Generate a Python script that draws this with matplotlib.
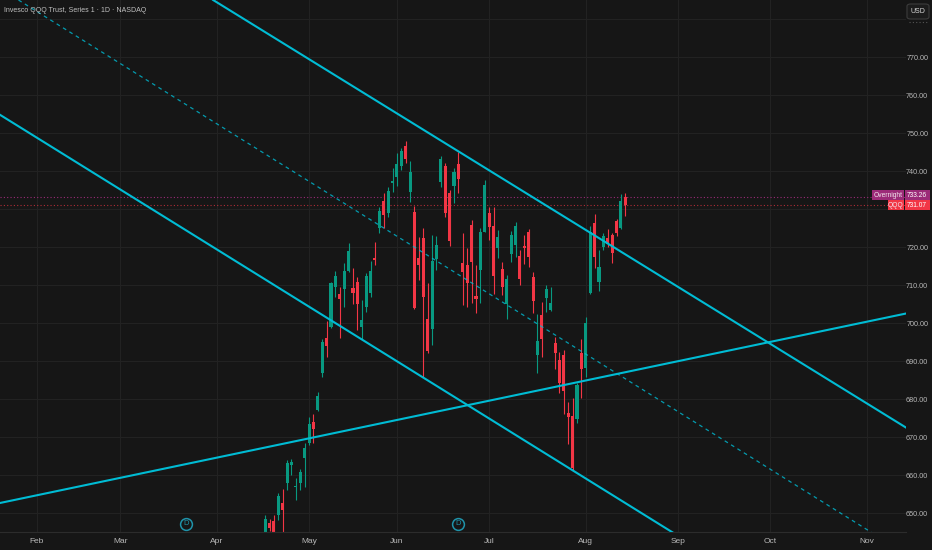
import matplotlib
matplotlib.use("Agg")
import matplotlib.pyplot as plt
import matplotlib.transforms as mtransforms
from matplotlib.patches import Rectangle, FancyBboxPatch
import numpy as np
import pandas as pd

plt.rcParams['font.family'] = ['Liberation Sans', 'DejaVu Sans']

# trading calendar 2026 (NYSE holidays)
holidays = ["2026-01-01", "2026-01-19", "2026-02-16", "2026-04-03", "2026-05-25",
            "2026-06-19", "2026-07-03", "2026-09-07", "2026-11-26", "2026-12-25"]
days = pd.bdate_range("2026-01-01", "2026-12-31", freq="C", holidays=holidays)
origin = days.get_loc(pd.Timestamp("2026-02-02"))


def pos(d):
    return days.get_loc(pd.Timestamp(d)) - origin


# daily candles, from 2026-04-17 to 2026-08-14
first_day = "2026-04-17"
opens = [644.0, 647.5, 648.0, 649.6, 652.8, 657.9, 662.7, 656.8, 658.1, 664.6,
         668.5, 674.0, 677.2, 687.0, 696.1, 699.1, 709.6, 707.6, 709.0, 713.8,
         709.4, 711.0, 699.1, 704.4, 708.1, 717.3, 725.0, 732.2, 729.0, 736.8,
         738.6, 741.4, 746.7, 734.5, 729.4, 717.3, 722.4, 701.1, 698.5, 716.8,
         737.3, 741.4, 734.4, 736.1, 741.9, 715.8, 715.3, 725.9, 707.2, 714.0,
         724.1, 729.1, 725.6, 719.7, 714.2, 705.1, 718.2, 720.6, 717.7, 720.3,
         724.0, 712.1, 691.7, 702.2, 706.6, 703.5, 694.7, 690.3, 691.7, 676.3,
         675.6, 674.7, 692.3, 688.3, 708.1, 726.3, 711.0, 720.2, 722.4, 723.2,
         727.0, 725.0, 733.3]
highs = [649.6, 648.5, 649.6, 655.3, 656.4, 664.0, 664.3, 659.3, 661.7, 668.5,
         675.3, 676.1, 682.0, 695.9, 700.7, 710.9, 713.8, 709.6, 716.0, 721.2,
         714.6, 712.3, 706.1, 713.2, 716.4, 721.5, 730.7, 734.2, 736.0, 740.8,
         744.9, 746.1, 748.0, 742.7, 730.9, 722.8, 725.0, 710.7, 723.2, 723.0,
         744.0, 742.2, 735.1, 740.8, 745.2, 723.7, 719.7, 727.2, 715.3, 725.0,
         737.7, 730.7, 730.7, 724.6, 716.2, 712.7, 724.4, 726.7, 719.3, 723.2,
         724.7, 713.6, 702.5, 705.7, 710.1, 709.6, 696.5, 692.5, 693.0, 679.4,
         680.3, 684.4, 695.8, 701.7, 725.6, 728.8, 719.3, 723.8, 724.8, 723.7,
         727.5, 734.0, 734.2]
lows = [643.0, 645.3, 643.0, 648.2, 644.3, 656.1, 660.1, 653.5, 656.1, 656.9,
        668.0, 668.5, 676.9, 685.8, 691.2, 698.8, 707.0, 696.1, 704.4, 713.6,
        705.1, 698.2, 695.6, 703.0, 707.0, 715.3, 723.7, 725.0, 727.9, 734.6,
        736.1, 740.3, 742.1, 732.0, 703.7, 711.4, 686.0, 692.1, 694.3, 714.0,
        736.0, 728.0, 720.3, 731.6, 734.4, 704.8, 704.4, 705.3, 702.8, 705.3,
        723.9, 721.9, 707.7, 717.2, 707.5, 701.1, 716.2, 717.5, 710.1, 715.6,
        714.9, 702.6, 687.0, 691.2, 703.1, 703.2, 687.9, 681.6, 676.1, 668.2,
        661.4, 673.7, 680.3, 686.0, 707.7, 714.5, 708.6, 719.3, 720.1, 715.8,
        723.0, 724.7, 728.2]
closes = [648.5, 646.1, 644.5, 654.6, 650.9, 663.3, 663.6, 657.1, 661.0, 667.2,
          673.5, 672.2, 681.0, 695.2, 694.1, 710.6, 712.5, 706.4, 713.8, 719.1,
          708.0, 705.1, 700.9, 712.5, 713.8, 716.7, 729.6, 728.5, 734.8, 737.5,
          741.9, 745.4, 743.2, 739.9, 704.1, 715.3, 707.0, 692.7, 716.4, 720.6,
          743.3, 729.1, 721.7, 739.9, 737.9, 713.6, 710.5, 716.2, 706.3, 724.1,
          736.4, 725.3, 712.5, 722.8, 709.5, 711.6, 723.2, 725.6, 711.6, 719.7,
          717.5, 706.0, 695.4, 695.9, 709.0, 705.3, 692.1, 684.4, 682.3, 675.4,
          661.8, 683.8, 687.9, 700.2, 724.1, 717.4, 714.7, 723.1, 720.9, 718.4,
          723.7, 732.2, 731.07]

overnight_price = 733.26
last_price = 731.07

# drawn trend lines: two anchor points each (date, price)
line_upper = [("2026-06-15", 748.1), ("2026-08-19", 716.0)]
line_lower = [("2026-04-14", 713.7), ("2026-08-31", 644.8)]
line_rising = [("2026-06-02", 674.8), ("2026-11-13", 702.6)]
line_mid = [("2026-06-02", 722.2), ("2026-11-03", 645.0)]

dividend_days = ["2026-03-23", "2026-06-22"]

months = ["Feb", "Mar", "Apr", "May", "Jun", "Jul", "Aug", "Sep", "Oct", "Nov"]
month_starts = ["2026-02-02", "2026-03-02", "2026-04-01", "2026-05-01", "2026-06-01",
                "2026-07-01", "2026-08-03", "2026-09-01", "2026-10-01", "2026-11-02"]
price_ticks = [650, 660, 670, 680, 690, 700, 710, 720, 730, 740, 750, 760, 770, 780]
# ticks hidden behind the USD box / last price label
hidden_ticks = [730, 780]

bg = '#161616'
grid = '#232323'
txt = '#b8b8b8'
up = '#089981'
down = '#f23645'
cyan = '#00bcd4'

W, H = 932, 550
fig = plt.figure(figsize=(W / 100, H / 100), dpi=100, facecolor=bg)
ax = fig.add_axes([0, (H - 532.3) / H, 906 / W, 532.3 / H], facecolor=bg)

o = np.array(opens)
hi = np.array(highs)
lo = np.array(lows)
c = np.array(closes)
x = pos(first_day) + np.arange(len(o))
cols = np.where(c >= o, up, down)

ax.vlines(x, lo, hi, colors=cols, lw=0.8, zorder=2)
ax.bar(x, np.maximum(np.abs(c - o), 0.3), bottom=np.minimum(o, c), width=0.7,
       color=cols, linewidth=0, zorder=2.5)

for pts, ls, lw in [(line_upper, '-', 1.5), (line_lower, '-', 1.5),
                    (line_rising, '-', 1.5), (line_mid, (0, (3, 3)), 0.9)]:
    (d1, p1), (d2, p2) = pts
    ax.axline((pos(d1), p1), (pos(d2), p2), color=cyan, lw=lw, ls=ls, zorder=3,
              alpha=1 if lw > 1 else 0.8)

ax.axhline(overnight_price, color='#9c2b78', lw=0.8, ls=(0, (1, 2)), zorder=1.5)
ax.axhline(last_price, color=down, lw=0.8, ls=(0, (1, 2)), alpha=0.7, zorder=1.5)

ax.set_xlim(-8.36, 197.9)
ax.set_ylim(645.0, 785.08)

ax.set_xticks([pos(d) for d in month_starts])
ax.set_xticklabels(months)
ax.set_yticks(price_ticks)
ax.set_yticklabels(["" if p in hidden_ticks else f"{p:.2f}" for p in price_ticks])
ax.yaxis.tick_right()
ax.tick_params(axis='x', length=0, pad=4, labelsize=6, colors=txt)
ax.tick_params(axis='y', length=0, pad=16, labelsize=5.2, colors=txt)
for lab in ax.get_yticklabels():
    lab.set_horizontalalignment('right')
ax.grid(True, color=grid, lw=0.7)
ax.set_axisbelow(True)
for s in ['top', 'left', 'right']:
    ax.spines[s].set_visible(False)
ax.spines['bottom'].set_color('#2c2c2c')

# dividend markers
tr = mtransforms.blended_transform_factory(ax.transData, ax.transAxes)
for d in dividend_days:
    ax.plot(pos(d), 0.0158, marker='o', ms=8.5, mfc=bg, mec='#1f93aa', mew=1.1,
            transform=tr, clip_on=False, zorder=4)
    ax.text(pos(d), 0.0158, "D", transform=tr, ha='center', va='center',
            fontsize=5.5, color='#1f93aa', zorder=5)

# title
fig.text(4 / W, 1 - 10 / H, "Invesco QQQ Trust, Series 1 · 1D · NASDAQ",
         fontsize=5, color='#c0c0c0', va='center', ha='left')

# USD box
fig.patches.append(FancyBboxPatch((907 / W, 1 - 19 / H), 22 / W, 15 / H,
                                  boxstyle="round,pad=0,rounding_size=0.004",
                                  transform=fig.transFigure, fc='#1c1c1c', ec='#3c3c3c', lw=0.8))
fig.text(918 / W, 1 - 11.5 / H, "USD", fontsize=5, color='#d8d8d8', ha='center', va='center')
fig.lines.append(plt.Line2D([909 / W, 927 / W], [1 - 22 / H, 1 - 22 / H], transform=fig.transFigure,
                            color='#555555', lw=0.8, ls=(0, (1, 2))))


def price_to_px(p):
    return H - ax.transData.transform((0, p))[1]


def price_label(name, value, ypx, color, name_x0):
    fig.patches.append(Rectangle((name_x0 / W, 1 - (ypx + 5) / H), (903.5 - name_x0) / W, 10 / H,
                                 transform=fig.transFigure, fc=color, ec='none', zorder=5))
    fig.patches.append(Rectangle((904.5 / W, 1 - (ypx + 5) / H), 25 / W, 10 / H,
                                 transform=fig.transFigure, fc=color, ec='none', zorder=5))
    fig.text((name_x0 + 903.5) / 2 / W, 1 - ypx / H, name, fontsize=4.8, color='#f2e6ee',
             ha='center', va='center', zorder=6)
    fig.text(917 / W, 1 - ypx / H, f"{value:.2f}", fontsize=4.8, color='white',
             ha='center', va='center', zorder=6)


qqq_y = price_to_px(last_price)
price_label("Overnight", overnight_price, min(price_to_px(overnight_price), qqq_y - 10), '#9c2b78', 872)
price_label("QQQ", last_price, qqq_y, down, 887.5)

fig.savefig("out.png", dpi=100, facecolor=bg)
